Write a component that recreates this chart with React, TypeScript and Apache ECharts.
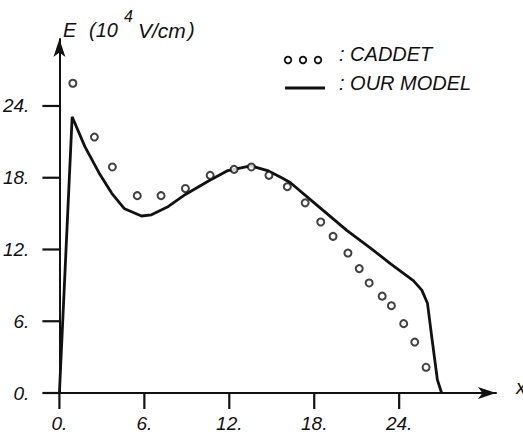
import React, { useEffect, useRef } from "react";
import * as echarts from "echarts";

// CADDET simulation points
const caddetX = [0.95, 2.47, 3.74, 5.5, 7.18, 8.9, 10.65, 12.34, 13.56, 14.8, 16.1, 17.36, 18.46, 19.33, 20.38, 21.18, 21.88, 22.8, 23.45, 24.32, 25.1, 25.9];
const caddetY = [25.9, 21.4, 18.9, 16.5, 16.5, 17.1, 18.2, 18.7, 18.9, 18.2, 17.25, 15.9, 14.3, 13.1, 11.7, 10.4, 9.2, 8.1, 7.3, 5.8, 4.26, 2.15];

// Our model curve
const modelX = [0, 0.9, 1.8, 2.8, 3.7, 4.6, 5.8, 6.5, 7.7, 8.9, 10.5, 11.9, 13.5, 14.7, 15.7, 16.3, 18.0, 20.3, 22.0, 23.4, 25.0, 25.6, 26.0, 26.3, 26.7, 27.0];
const modelY = [0, 23.1, 20.6, 18.4, 16.7, 15.4, 14.8, 14.9, 15.6, 16.6, 17.7, 18.6, 19.0, 18.6, 18.0, 17.6, 15.9, 13.6, 12.1, 10.8, 9.4, 8.6, 7.5, 4.7, 1.1, 0];

const tickValues = [0, 6, 12, 18, 24];

const FONT = "Liberation Sans";
const INK = "#111";

export default function App() {
  const ref = useRef<HTMLDivElement>(null);
  useEffect(() => {
    if (!ref.current) return;
    const chart = echarts.init(ref.current, null, { renderer: "svg" });
    const labelStyle = {
      show: true,
      fontFamily: FONT,
      fontStyle: "italic" as const,
      fontSize: 19,
      color: INK,
      formatter: (v: number) => (tickValues.indexOf(v) >= 0 ? `${v}.` : ""),
    };
    chart.setOption({
      animation: false,
      backgroundColor: "#fff",
      grid: { left: 57.5, right: 27, top: 39, bottom: 42 },
      xAxis: {
        type: "value",
        min: 0,
        max: 30.84,
        interval: 6,
        splitLine: { show: false },
        axisLine: { show: true, onZero: false, lineStyle: { color: INK, width: 2 }, symbol: ["none", "arrow"], symbolSize: [9, 18] },
        axisTick: { show: false },
        axisLabel: { ...labelStyle, margin: 21 },
      },
      yAxis: {
        type: "value",
        min: 0,
        max: 29.6,
        interval: 6,
        splitLine: { show: false },
        axisLine: { show: true, onZero: false, lineStyle: { color: INK, width: 2 }, symbol: ["none", "arrow"], symbolSize: [9, 18] },
        axisTick: { show: false },
        axisLabel: { ...labelStyle, margin: 30 },
      },
      series: [
        {
          name: "CADDET",
          type: "scatter",
          symbol: "emptyCircle",
          symbolSize: 7,
          itemStyle: { color: INK, borderColor: INK, borderWidth: 1.8 },
          data: caddetX.map((x, i) => [x, caddetY[i]]),
          z: 3,
        },
        {
          name: "OUR MODEL",
          type: "line",
          showSymbol: false,
          symbol: "none",
          lineStyle: { color: INK, width: 2.8 },
          data: modelX.map((x, i) => [x, modelY[i]]),
          z: 2,
        },
        {
          name: "xTicks",
          type: "scatter",
          silent: true,
          clip: false,
          z: 10,
          symbol: "rect",
          symbolSize: [2.2, 16],
          symbolOffset: [0, 8],
          itemStyle: { color: INK, opacity: 1 },
          data: tickValues.map((v) => [v, 0]),
        },
        {
          name: "yTicks",
          type: "scatter",
          silent: true,
          clip: false,
          z: 10,
          symbol: "rect",
          symbolSize: [17, 2.2],
          symbolOffset: [-8.5, 0],
          itemStyle: { color: INK, opacity: 1 },
          data: tickValues.map((v) => [0, v]),
        },
      ],
      graphic: [
        { type: "text", left: 63, top: 20, style: { text: "E", font: `italic 20px ${FONT}`, fill: INK } },
        { type: "text", left: 89, top: 20, style: { text: "(10", font: `italic 20px ${FONT}`, fill: INK } },
        { type: "text", left: 124, top: 8, style: { text: "4", font: `italic 16px ${FONT}`, fill: INK } },
        { type: "text", left: 138, top: 20, style: { text: "V/cm", font: `italic 21px ${FONT}`, fill: INK } },
        { type: "text", left: 188, top: 20, style: { text: ")", font: `italic 20px ${FONT}`, fill: INK } },
        { type: "circle", shape: { cx: 288, cy: 60, r: 3.3 }, style: { fill: "#fff", stroke: INK, lineWidth: 1.8 } },
        { type: "circle", shape: { cx: 303, cy: 60, r: 3.3 }, style: { fill: "#fff", stroke: INK, lineWidth: 1.8 } },
        { type: "circle", shape: { cx: 318, cy: 60, r: 3.3 }, style: { fill: "#fff", stroke: INK, lineWidth: 1.8 } },
        { type: "text", left: 339, top: 44, style: { text: ": CADDET", font: `italic 20px ${FONT}`, fill: INK } },
        { type: "line", shape: { x1: 285, y1: 88, x2: 325, y2: 88 }, style: { stroke: INK, lineWidth: 2.8 } },
        { type: "text", left: 339, top: 73, style: { text: ": OUR MODEL", font: `italic 20px ${FONT}`, fill: INK } },
        { type: "text", left: 516, top: 377, style: { text: "x", font: `italic 20px ${FONT}`, fill: INK } },
      ],
    });
    return () => chart.dispose();
  }, []);
  return <div ref={ref} style={{ position: "fixed", left: 0, top: 0, width: 523, height: 435 }} />;
}
